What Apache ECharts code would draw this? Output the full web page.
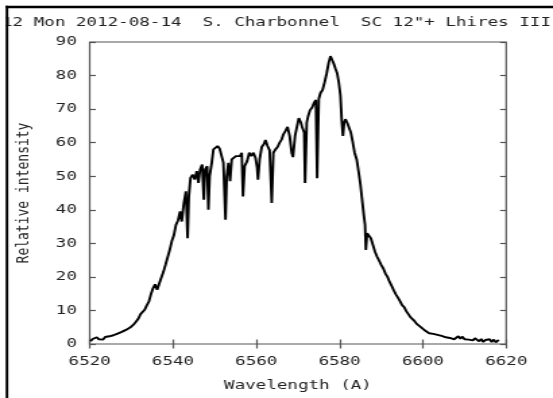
<!DOCTYPE html>
<html>
<head>
<meta charset="utf-8">
<script src="https://cdn.jsdelivr.net/npm/echarts@6/dist/echarts.min.js"></script>
<style>
  html, body { margin: 0; padding: 0; background: #fff; overflow: hidden; }
  /* the source picture is a gnuplot image stretched sideways, so draw narrow and stretch */
  #chart { width: 410px; height: 398px; transform: scaleX(1.3488); transform-origin: 0 0; }
</style>
</head>
<body>
<div id="chart"></div>
<script>
var titleText = '12 Mon 2012-08-14  S. Charbonnel  SC 12"+ Lhires III';
var xName = 'Wavelength (A)',
    yName = 'Relative intensity';
var xRange = [6520, 6620],
    yRange = [0, 90];

// spectrum (wavelength in A, relative intensity)
var wavelength = [
  6520.2, 6520.7, 6521.2, 6521.7, 6522.2, 6522.7, 6523.2, 6523.7, 6524.2, 6524.7,
  6525.2, 6525.7, 6526.2, 6526.7, 6527.2, 6527.7, 6528.2, 6528.7, 6529.2, 6529.7,
  6530.2, 6530.7, 6531.2, 6531.7, 6532.2, 6532.7, 6533.2, 6533.7, 6534.2, 6534.7,
  6535.2, 6535.7, 6536.2, 6536.7, 6537.2, 6537.7, 6538.2, 6538.7, 6539.2, 6539.7,
  6540.2, 6540.7, 6541.2, 6541.7, 6542.1, 6542.6, 6543.1, 6543.5, 6543.8, 6544.2,
  6544.7, 6545.2, 6545.7, 6546.1, 6546.5, 6547.0, 6547.4, 6547.7, 6548.2, 6548.5,
  6548.8, 6549.3, 6549.7, 6550.2, 6550.7, 6551.2, 6551.7, 6552.1, 6552.6, 6552.9,
  6553.3, 6553.7, 6554.1, 6554.6, 6555.1, 6555.6, 6556.1, 6556.5, 6556.8, 6557.2,
  6557.8, 6558.3, 6558.8, 6559.3, 6559.8, 6560.2, 6560.4, 6560.8, 6561.3, 6561.8,
  6562.2, 6562.7, 6563.2, 6563.7, 6564.1, 6564.6, 6565.1, 6565.6, 6566.1, 6566.5,
  6567.0, 6567.5, 6568.0, 6568.5, 6568.8, 6569.3, 6569.8, 6570.2, 6570.7, 6571.0,
  6571.5, 6571.7, 6572.1, 6572.4, 6572.9, 6573.4, 6573.9, 6574.3, 6574.6, 6575.0,
  6575.4, 6575.9, 6576.4, 6576.9, 6577.4, 6577.8, 6578.2, 6578.6, 6579.0, 6579.4,
  6579.8, 6580.2, 6580.5, 6580.8, 6581.1, 6581.4, 6581.8, 6582.2, 6582.7, 6583.1,
  6583.6, 6584.1, 6584.6, 6585.0, 6585.4, 6585.8, 6586.1, 6586.3, 6586.6, 6587.0,
  6587.5, 6588.0, 6588.5, 6589.0, 6589.5, 6590.0, 6590.5, 6591.0, 6591.5, 6592.0,
  6592.5, 6593.0, 6593.5, 6594.0, 6594.5, 6595.0, 6595.5, 6596.0, 6596.5, 6597.0,
  6597.5, 6598.0, 6598.5, 6599.0, 6599.5, 6600.0, 6600.5, 6601.0, 6601.5, 6602.0,
  6602.5, 6603.0, 6603.5, 6604.0, 6604.5, 6605.0, 6605.5, 6606.0, 6606.5, 6607.0,
  6607.5, 6608.0, 6608.5, 6609.0, 6609.5, 6610.0, 6610.5, 6611.0, 6611.5, 6612.0,
  6612.5, 6613.0, 6613.5, 6614.0, 6614.5, 6615.0, 6615.5, 6616.0, 6616.5, 6617.0,
  6617.5, 6618.2
];
var intensity = [
  0.8, 1.5, 1.2, 2.0, 1.4, 1.8, 1.3, 2.1, 1.6, 2.3,
  1.9, 2.6, 2.4, 3.1, 2.8, 3.6, 3.4, 4.2, 4.0, 4.9,
  5.3, 6.0, 6.8, 7.6, 8.9, 8.4, 10.2, 11.5, 12.6, 14.8,
  16.6, 17.8, 16.2, 18.0, 19.8, 21.5, 23.6, 25.8, 28.0, 30.6,
  32.4, 35.5, 36.8, 39.5, 36.5, 42.0, 45.5, 31.5, 44.0, 49.5,
  50.5, 49.0, 51.5, 48.0, 52.0, 53.5, 43.0, 52.0, 53.0, 40.0,
  50.0, 54.0, 58.0, 58.5, 59.0, 58.2, 58.5, 54.0, 37.0, 50.0,
  54.0, 48.5, 55.0, 55.5, 56.0, 56.5, 56.0, 57.0, 44.0, 53.0,
  54.5, 57.0, 56.0, 57.0, 55.5, 52.5, 49.0, 55.0, 58.7, 59.5,
  60.8, 59.0, 57.7, 42.0, 57.0, 58.0, 58.7, 60.0, 61.0, 62.5,
  63.5, 64.7, 62.0, 57.0, 55.7, 62.0, 65.0, 67.3, 66.0, 64.7,
  63.0, 48.0, 66.0, 67.7, 69.7, 70.5, 72.0, 72.7, 49.4, 73.0,
  74.8, 75.7, 78.0, 80.7, 84.0, 85.8, 86.0, 83.5, 82.0, 80.7,
  78.0, 74.0, 66.8, 62.0, 66.0, 67.0, 66.0, 65.5, 63.0, 60.5,
  57.0, 55.0, 51.0, 47.5, 43.0, 38.5, 35.5, 28.0, 33.0, 33.5,
  31.5, 29.5, 27.5, 26.0, 24.8, 23.5, 22.5, 21.0, 20.0, 18.5,
  17.3, 16.0, 14.8, 13.8, 12.8, 11.6, 11.0, 9.8, 9.3, 8.0,
  7.4, 6.8, 6.0, 5.6, 5.0, 4.6, 4.0, 3.7, 3.2, 3.6,
  3.0, 3.4, 2.7, 3.0, 2.4, 2.8, 2.0, 2.5, 1.8, 2.2,
  1.4, 1.6, 2.3, 1.6, 2.2, 1.4, 1.9, 1.3, 1.8, 1.1,
  1.7, 1.2, 0.8, 1.5, 0.6, 1.2, 0.7, 1.4, 0.6, 1.3,
  0.5, 1.2
];

var font = 'DejaVu Sans Mono',
    textColor = '#222',
    boxColor = '#555';

var points = wavelength.map(function(w, i) { return [w, intensity[i]]; });

function axisBase(extra) {
  var a = {
    type: 'value',
    show: true,
    gridIndex: 0,
    axisLine: { show: false },
    axisTick: { show: true, inside: true, length: 4.5, lineStyle: { color: boxColor, width: 1.2 } },
    splitLine: { show: false },
    axisLabel: { show: false }
  };
  for (var k in extra) a[k] = extra[k];
  return a;
}

function plain(v) { return String(v); }

var chart = echarts.init(document.getElementById('chart'), null, { renderer: 'canvas' });
chart.setOption({
  animation: false,
  backgroundColor: '#fff',
  title: {
    text: titleText,
    left: -3.5,
    top: 11,
    textStyle: { fontFamily: font, fontSize: 13, fontWeight: 'normal', color: textColor }
  },
  grid: {
    left: 66.5, right: 34.7, top: 42, bottom: 54,
    show: true, borderColor: boxColor, borderWidth: 1.2, backgroundColor: 'transparent'
  },
  xAxis: [
    axisBase({
      min: xRange[0], max: xRange[1], interval: 20, position: 'bottom',
      name: xName, nameLocation: 'middle', nameGap: 35,
      nameTextStyle: { fontFamily: font, fontSize: 13, color: textColor },
      axisLabel: { show: true, margin: 11, fontFamily: font, fontSize: 13, color: textColor, formatter: plain }
    }),
    axisBase({ min: xRange[0], max: xRange[1], interval: 20, position: 'top' })
  ],
  yAxis: [
    axisBase({
      min: yRange[0], max: yRange[1], interval: 10, position: 'left',
      name: yName, nameLocation: 'middle', nameGap: 42, nameRotate: 90,
      nameTextStyle: { fontFamily: font, fontSize: 13, color: textColor },
      axisLabel: { show: true, margin: 9.5, fontFamily: font, fontSize: 13, color: textColor, formatter: plain }
    }),
    axisBase({ min: yRange[0], max: yRange[1], interval: 10, position: 'right' })
  ],
  series: [{
    type: 'line',
    data: points,
    showSymbol: false,
    lineStyle: { color: '#000', width: 1.9 },
    z: 3
  }],
  graphic: [
    // white margin left of the frame hides the clipped start of the title
    { type: 'rect', z: 99, shape: { x: 0, y: 0, width: 4.4, height: 398 }, style: { fill: '#fff' } },
    // outer frame of the picture: left and top edges only
    { type: 'rect', z: 100, shape: { x: 4.2, y: 5.7, width: 1.9, height: 400 }, style: { fill: '#000' } },
    { type: 'rect', z: 100, shape: { x: 4.2, y: 5.7, width: 420, height: 2.6 }, style: { fill: '#000' } }
  ]
});
</script>
</body>
</html>
